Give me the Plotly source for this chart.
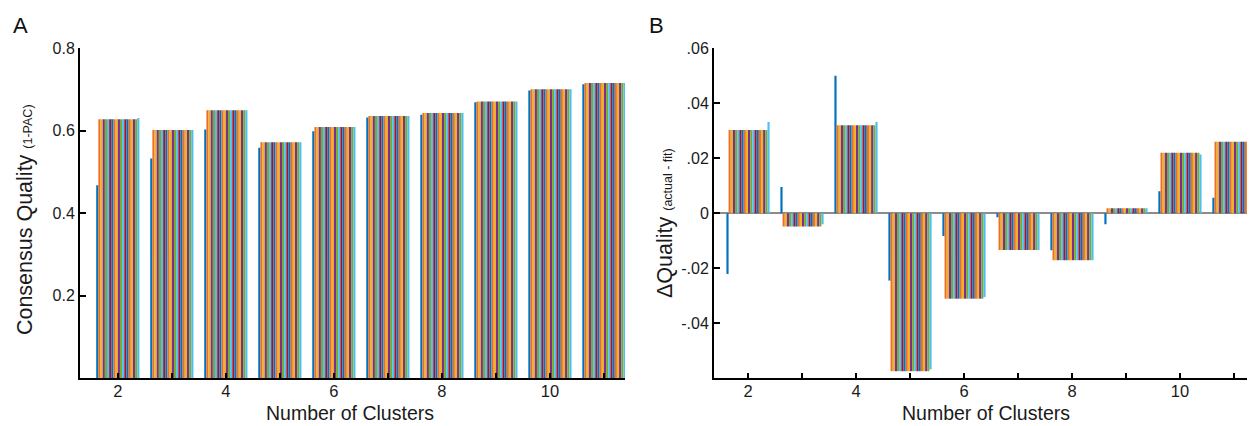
import plotly.graph_objects as go

clusters = [2, 3, 4, 5, 6, 7, 8, 9, 10, 11]
n_series = 20

# Panel A: consensus quality (1-PAC)
a_first = [0.468, 0.533, 0.603, 0.559, 0.599, 0.632, 0.639, 0.669, 0.698, 0.713]
a_mid = [0.628, 0.602, 0.650, 0.572, 0.609, 0.636, 0.643, 0.671, 0.701, 0.716]
a_last = [0.631, 0.602, 0.650, 0.572, 0.609, 0.636, 0.643, 0.671, 0.701, 0.716]

# Panel B: delta quality (actual - fit)
b_first = [-0.0221, 0.0095, 0.0500, -0.0245, -0.0083, -0.0015, -0.0135, -0.0040, 0.0080, 0.0056]
b_mid = [0.0303, -0.0048, 0.0320, -0.0575, -0.0311, -0.0134, -0.0171, 0.0018, 0.0220, 0.0260]
b_last = [0.0332, -0.0040, 0.0332, -0.0568, -0.0305, -0.0134, -0.0171, 0.0018, 0.0214, 0.0260]

colors = ["#0072BD", "#E8702A", "#F0B323", "#7E2F8E", "#77AC30", "#4DBEEE", "#A2142F"]

a_ticks = [0.2, 0.4, 0.6, 0.8]
a_ticktext = ["0.2", "0.4", "0.6", "0.8"]
b_ticks = [-0.04, -0.02, 0, 0.02, 0.04, 0.06]
b_ticktext = ["-.04", "-.02", "0", ".02", ".04", ".06"]
x_ticktext = ["2", "", "4", "", "6", "", "8", "", "10", ""]

W, H = 1255, 426
OFF = 8  # page body margin


def fx(px):
    return (px - OFF) / W


def fy(py):
    return 1 - (py - OFF) / H


fig = go.Figure()


def series_vals(i, first, mid, last):
    if i == 0:
        return first
    if i == n_series - 1:
        return last
    return mid


for i in range(n_series):
    c = colors[i % len(colors)]
    fig.add_trace(go.Bar(x=clusters, y=series_vals(i, a_first, a_mid, a_last),
                         marker=dict(color=c, line=dict(width=0)),
                         xaxis="x", yaxis="y", showlegend=False))
for i in range(n_series):
    c = colors[i % len(colors)]
    fig.add_trace(go.Bar(x=clusters, y=series_vals(i, b_first, b_mid, b_last),
                         marker=dict(color=c, line=dict(width=0)),
                         xaxis="x2", yaxis="y2", showlegend=False))

font = "Arial, Liberation Sans, Helvetica, sans-serif"
txt = "#1a1a1a"

common_x = dict(showline=True, linecolor="black", linewidth=2, ticks="inside",
                ticklen=5, tickwidth=1.5, tickcolor="black", showgrid=False,
                zeroline=False, tickvals=clusters, ticktext=x_ticktext,
                ticklabelstandoff=-3,
                tickfont=dict(size=16.5, color=txt, family=font))
common_y = dict(showline=True, linecolor="black", linewidth=2, ticks="inside",
                ticklen=6, tickwidth=1.5, tickcolor="black", showgrid=False,
                tickfont=dict(size=16, color=txt, family=font))

fig.update_layout(
    width=W, height=H,
    margin=dict(l=0, r=0, t=0, b=0),
    paper_bgcolor="white", plot_bgcolor="white",
    barmode="group", bargap=0.2, bargroupgap=0,
    xaxis=dict(domain=[fx(80), fx(625)], range=[1.3, 11.39], anchor="y", **common_x),
    yaxis=dict(domain=[fy(377), fy(41)], range=[0, 0.8], anchor="x", zeroline=False,
               tickvals=a_ticks, ticktext=a_ticktext, **common_y),
    xaxis2=dict(domain=[fx(714), fx(1255)], range=[1.37, 11.39], anchor="y2", **common_x),
    yaxis2=dict(domain=[fy(377), fy(41)], range=[-0.06, 0.06], anchor="x2",
                zeroline=True, zerolinecolor="#8c8c8c", zerolinewidth=1.5,
                tickvals=b_ticks, ticktext=b_ticktext, **common_y),
    annotations=[
        dict(text="A", x=fx(11), y=fy(18), xref="paper", yref="paper",
             xanchor="left", yanchor="middle", showarrow=False,
             font=dict(size=22, color="#111", family=font)),
        dict(text="B", x=fx(647), y=fy(18), xref="paper", yref="paper",
             xanchor="left", yanchor="middle", showarrow=False,
             font=dict(size=22, color="#111", family=font)),
        dict(text="Consensus Quality <span style='font-size:12.5px'>(1-PAC)</span>",
             x=fx(25), y=fy(216), xref="paper", yref="paper",
             xanchor="center", yanchor="middle", textangle=-90, showarrow=False,
             font=dict(size=21.5, color=txt, family=font)),
        dict(text="\u0394Quality <span style='font-size:12.5px'>(actual - fit)</span>",
             x=fx(665), y=fy(219), xref="paper", yref="paper",
             xanchor="center", yanchor="middle", textangle=-90, showarrow=False,
             font=dict(size=21.5, color=txt, family=font)),
        dict(text="Number of Clusters", x=fx(350), y=fy(413), xref="paper", yref="paper",
             xanchor="center", yanchor="middle", showarrow=False,
             font=dict(size=19.5, color=txt, family=font)),
        dict(text="Number of Clusters", x=fx(986), y=fy(413), xref="paper", yref="paper",
             xanchor="center", yanchor="middle", showarrow=False,
             font=dict(size=19.5, color=txt, family=font)),
    ],
)

fig.write_html("out.html")
